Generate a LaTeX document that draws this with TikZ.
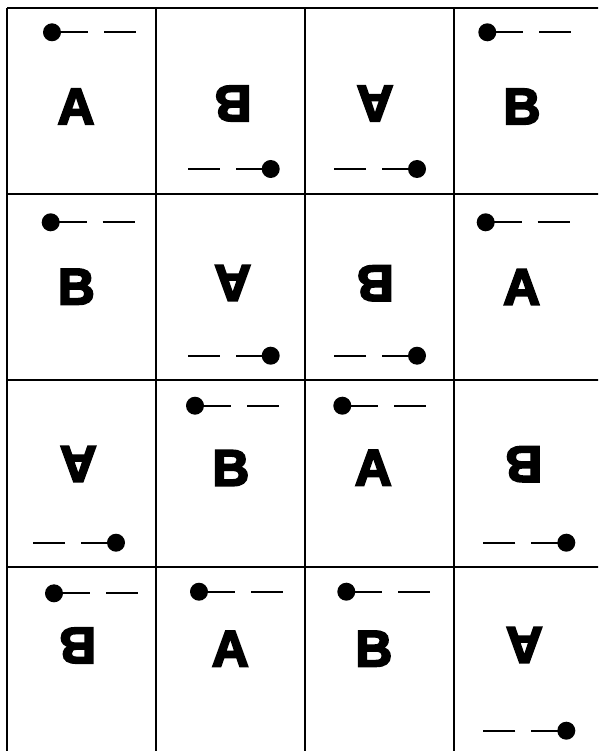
\documentclass[tikz,border=0pt]{standalone}
\usepackage{fontspec}
\newfontface\cardfont{Liberation Sans Bold}[FakeBold=4]
% tab at the top of a card: dot on the left, line and dash to the right
\newcommand{\tabup}[2]{%
  \fill (#1,#2) circle[radius=9pt];
  \draw[tabline] (#1,#2) -- (#1+36,#2);
  \draw[tabline] (#1+52,#2) -- (#1+84,#2);}
% tab at the bottom of a turned card: dash and line to the left of the dot
\newcommand{\tabdown}[2]{%
  \fill (#1,#2) circle[radius=9pt];
  \draw[tabline] (#1,#2) -- (#1-35,#2);
  \draw[tabline] (#1-51,#2) -- (#1-83,#2);}
\begin{document}
\begin{tikzpicture}[x=1pt,y=-1pt,
  gridline/.style={line width=2.4pt},
  tabline/.style={line width=2.2pt},
  letter/.style={font=\cardfont\fontsize{51}{51}\selectfont,inner sep=0pt},
  turned/.style={letter,rotate=180}]
\useasboundingbox (0,0) rectangle (598,751);
\clip (0,0) rectangle (598,751);
\fill[white] (0,0) rectangle (598,751);
% grid
\draw[gridline] (7,8) -- (7,760);
\draw[gridline] (156,8) -- (156,760);
\draw[gridline] (305,8) -- (305,760);
\draw[gridline] (454,8) -- (454,760);
\draw[gridline] (7,8) -- (610,8);
\draw[gridline] (7,194) -- (610,194);
\draw[gridline] (7,380) -- (610,380);
\draw[gridline] (7,567) -- (610,567);
% row 1
\node[letter] (a11) at (76,106.5) {A};   \tabup{52}{32.3}
\node[turned] (b12) at (233,103.5) {B};  \tabdown{270.7}{169}
\node[turned] (a13) at (375,103.5) {A};  \tabdown{417}{169}
\node[letter] (b14) at (522,106.5) {B};  \tabup{487.3}{32.3}
% row 2
\node[letter] (b21) at (76.3,286.7) {B}; \tabup{50.7}{222.3}
\node[turned] (a22) at (232.7,283) {A};  \tabdown{270.7}{355.7}
\node[turned] (b23) at (375.3,283.3) {B};\tabdown{417}{355.7}
\node[letter] (a24) at (521.7,287) {A};  \tabup{485.7}{222.3}
% row 3
\node[turned] (a31) at (78.3,464) {A};   \tabdown{116}{542.7}
\node[letter] (b32) at (230.8,468) {B};  \tabup{195}{405.7}
\node[letter] (a33) at (373.3,467.8) {A};\tabup{342.3}{405.7}
\node[turned] (b34) at (523.8,464.2) {B};\tabdown{566.3}{542.7}
% row 4
\node[turned] (b41) at (77.7,645.5) {B}; \tabup{54}{593.3}
\node[letter] (a42) at (230.3,648.7) {A};\tabup{199}{591.7}
\node[letter] (b43) at (373.8,648.7) {B};\tabup{346.3}{591.7}
\node[turned] (a44) at (524.3,645) {A};  \tabdown{566.3}{730.7}
\end{tikzpicture}
\end{document}
